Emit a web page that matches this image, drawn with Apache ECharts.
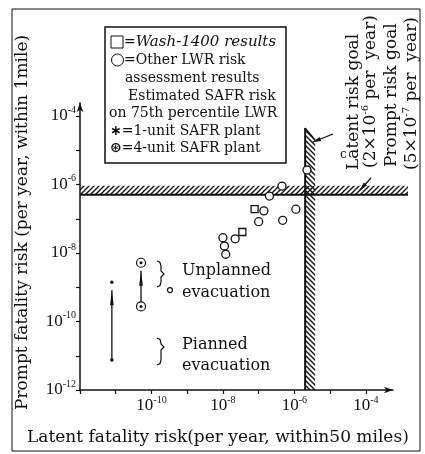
<!DOCTYPE html>
<html>
<head>
<meta charset="utf-8">
<script src="https://cdn.jsdelivr.net/npm/echarts@6/dist/echarts.min.js"></script>
<style>
html, body { margin: 0; padding: 0; background: #fff; }
#main { width: 425px; height: 454px; }
</style>
</head>
<body>
<div id="main"></div>
<script>
// ---------------- data (risk per year), [latent, prompt]
// WASH-1400 results
const washData = [[7.7e-8, 1.9e-7], [3.5e-8, 4.1e-8]];
// other LWR risk assessment results
const lwrData = [
    [2.25e-6, 2.65e-6], [4.5e-7, 9.0e-7], [2.0e-7, 4.6e-7],
    [1.4e-7, 1.7e-7], [1.1e-6, 1.9e-7], [1.0e-7, 8.2e-8],
    [4.7e-7, 9.0e-8], [2.2e-8, 2.6e-8], [1.0e-8, 2.8e-8],
    [1.1e-8, 1.6e-8], [1.2e-8, 9.2e-9]
];
// SAFR plants: [latent, prompt (unplanned evacuation), prompt (planned evacuation)]
const safr1Unit = [7.8e-12, 1.4e-9, 7.5e-12];
const safr4Unit = [5.1e-11, 5.2e-9, 2.75e-10];
// small point next to "evacuation"
const extraData = [[3.3e-10, 8.3e-10]];
// risk goals
const latentGoal = 2e-6;
const promptGoal = 5e-7;
// ticks (powers of ten)
const tickPowers = [-12, -11, -10, -9, -8, -7, -6, -5, -4];
const xLabelPowers = [-10, -8, -6, -4];
const yLabelPowers = [-12, -10, -8, -6, -4];

const lg = Math.log10;
const toLog = arr => arr.map(d => d.map(lg));

const INK = '#111';
const SERIF = 'DejaVu Serif';
const NUMF = 'Liberation Serif';

// hatch pattern for the goal bands
function makeHatch(dir) {
    const s = 5;
    const c = document.createElement('canvas');
    c.width = s; c.height = s;
    const g = c.getContext('2d');
    g.strokeStyle = INK;
    g.lineWidth = 1.4;
    g.beginPath();
    if (dir > 0) {
        g.moveTo(-1, s + 1); g.lineTo(s + 1, -1);
        g.moveTo(-1, 1); g.lineTo(1, -1);
        g.moveTo(s - 1, s + 1); g.lineTo(s + 1, s - 1);
    } else {
        g.moveTo(-1, -1); g.lineTo(s + 1, s + 1);
        g.moveTo(s - 1, -1); g.lineTo(s + 1, 1);
        g.moveTo(-1, s - 1); g.lineTo(1, s + 1);
    }
    g.stroke();
    return c;
}
const hatchA = makeHatch(1);
const hatchB = makeHatch(-1);

const tickLabel = v => '{b|10}{s|-' + Math.abs(v) + '}';
const tickRich = {
    b: { fontFamily: NUMF, fontSize: 17, color: INK },
    s: { fontFamily: NUMF, fontSize: 10, color: INK, padding: [0, 0, 12, 0] }
};

// arrow helper for the leader lines
function leader(x1, y1, x2, y2) {
    const dx = x2 - x1, dy = y2 - y1;
    const len = Math.sqrt(dx * dx + dy * dy);
    const ux = dx / len, uy = dy / len;
    const bx = x2 - ux * 8, by = y2 - uy * 8;
    return [
        { type: 'line', shape: { x1: x1, y1: y1, x2: x2, y2: y2 }, style: { stroke: INK, lineWidth: 1.2 } },
        { type: 'polygon', shape: { points: [[x2, y2], [bx - uy * 2.2, by + ux * 2.2], [bx + uy * 2.2, by - ux * 2.2]] }, style: { fill: INK } }
    ];
}

function brace(x, t, b, m) {
    return {
        type: 'polyline',
        shape: { points: [[x, t], [x + 3, t + 1.5], [x + 4, t + 5], [x + 4, m - 3], [x + 7, m], [x + 4, m + 3], [x + 4, b - 5], [x + 3, b - 1.5], [x, b]] },
        style: { stroke: INK, fill: null, lineWidth: 1.2 }
    };
}

function txt(x, y, text, size, extra) {
    return Object.assign({
        type: 'text', x: x, y: y,
        style: { text: text, fontFamily: SERIF, fontSize: size, fill: INK, verticalAlign: 'middle', align: 'left' }
    }, extra || {});
}

// legend box
const legendLines = [
    { y: 42, x: 124, text: '={i|Wash-1400 results}' },
    { y: 60, x: 124, text: '=Other LWR risk' },
    { y: 78, x: 125, text: 'assessment results' },
    { y: 96, x: 128, text: 'Estimated SAFR risk' },
    { y: 113, x: 109, text: 'on 75th percentile LWR' },
    { y: 131, x: 110, text: '{k|\u2217}=1-unit SAFR plant' },
    { y: 148, x: 110, text: '{k|\u229B}=4-unit SAFR plant' }
];
const legendGraphics = [
    { type: 'rect', shape: { x: 105, y: 27, width: 181, height: 136 }, style: { fill: '#fff', stroke: INK, lineWidth: 1.5 } },
    { type: 'rect', shape: { x: 111, y: 36, width: 12, height: 12 }, style: { fill: '#fff', stroke: INK, lineWidth: 1 } },
    { type: 'circle', shape: { cx: 117.5, cy: 60, r: 6 }, style: { fill: '#fff', stroke: INK, lineWidth: 1 } }
].concat(legendLines.map(l => ({
    type: 'text', x: l.x, y: l.y,
    style: {
        text: l.text, fontFamily: SERIF, fontSize: 14, fill: INK, verticalAlign: 'middle',
        rich: {
            i: { fontFamily: SERIF, fontStyle: 'italic', fontSize: 15, fill: INK },
            k: { fontFamily: 'DejaVu Sans', fontSize: 14, fontWeight: 'bold', fill: INK }
        }
    }
})));

const supRich = {
    s: { fontFamily: SERIF, fontSize: 10, fill: INK, padding: [0, 0, 11, 0] }
};
const rot = Math.PI / 2;

const chart = echarts.init(document.getElementById('main'));
const option = {
    animation: false,
    backgroundColor: '#fff',
    grid: { left: 80, top: 103, right: 32, bottom: 64 },
    xAxis: {
        type: 'value', min: -12, max: -3.24, interval: 1,
        splitLine: { show: false },
        axisLine: { lineStyle: { color: INK, width: 1.5 }, symbol: ['none', 'arrow'], symbolSize: [5, 9] },
        axisTick: { customValues: tickPowers, length: 4, lineStyle: { color: INK, width: 1.2 } },
        axisLabel: { customValues: xLabelPowers, formatter: tickLabel, rich: tickRich, margin: 5 }
    },
    yAxis: {
        type: 'value', min: -12, max: -3.62, interval: 1,
        splitLine: { show: false },
        axisLine: { lineStyle: { color: INK, width: 1.5 }, symbol: ['none', 'arrow'], symbolSize: [5, 9] },
        axisTick: { customValues: tickPowers, length: 4, lineStyle: { color: INK, width: 1.2 } },
        axisLabel: { customValues: yLabelPowers, formatter: tickLabel, rich: tickRich, margin: 4 }
    },
    series: [
        // prompt risk goal band
        {
            type: 'custom', clip: false, z: 1,
            data: [[-12, lg(promptGoal)]],
            renderItem: function (params, api) {
                const p = api.coord([api.value(0), api.value(1)]);
                const right = api.coord([-3.24, api.value(1)])[0] + 15;
                return {
                    type: 'group', children: [
                        { type: 'rect', shape: { x: p[0], y: p[1] - 9, width: right - p[0], height: 9 }, style: { fill: { image: hatchA, repeat: 'repeat' } } },
                        { type: 'line', shape: { x1: p[0], y1: p[1], x2: right, y2: p[1] }, style: { stroke: INK, lineWidth: 2 } }
                    ]
                };
            }
        },
        // latent risk goal band
        {
            type: 'custom', clip: false, z: 1,
            data: [[lg(latentGoal), -12]],
            renderItem: function (params, api) {
                const p = api.coord([api.value(0), api.value(1)]);
                const top = api.coord([api.value(0), -4.35])[1];
                return {
                    type: 'group', children: [
                        { type: 'polygon', shape: { points: [[p[0], top], [p[0] + 10, top + 12], [p[0] + 10, p[1]], [p[0], p[1]]] }, style: { fill: { image: hatchB, repeat: 'repeat' } } },
                        { type: 'line', shape: { x1: p[0], y1: top, x2: p[0] + 10, y2: top + 12 }, style: { stroke: INK, lineWidth: 1.2 } },
                        { type: 'line', shape: { x1: p[0], y1: p[1], x2: p[0], y2: top }, style: { stroke: INK, lineWidth: 2 } }
                    ]
                };
            }
        },
        // SAFR arrows (planned -> unplanned)
        {
            type: 'custom', clip: false, z: 2,
            data: [safr1Unit.map(lg), safr4Unit.map(lg)],
            renderItem: function (params, api) {
                const top = api.coord([api.value(0), api.value(1)]);
                const bot = api.coord([api.value(0), api.value(2)]);
                const tip = top[1] + 8;
                return {
                    type: 'group', children: [
                        { type: 'line', shape: { x1: bot[0], y1: bot[1], x2: top[0], y2: tip }, style: { stroke: INK, lineWidth: 1.3 } },
                        { type: 'polygon', shape: { points: [[top[0], tip], [top[0] - 1.8, tip + 15], [top[0] + 1.8, tip + 15]] }, style: { fill: INK } }
                    ]
                };
            }
        },
        {
            type: 'scatter', z: 3, data: toLog(lwrData), symbol: 'circle', symbolSize: 8,
            itemStyle: { color: '#fff', borderColor: INK, borderWidth: 1.3, opacity: 1 }
        },
        {
            type: 'scatter', z: 3, data: toLog(washData), symbol: 'rect', symbolSize: 7,
            itemStyle: { color: '#fff', borderColor: INK, borderWidth: 1.3, opacity: 1 }
        },
        {
            type: 'scatter', z: 3, data: toLog([[safr1Unit[0], safr1Unit[1]], [safr1Unit[0], safr1Unit[2]]]),
            symbol: 'circle', symbolSize: 3.5, itemStyle: { color: INK, opacity: 1 }
        },
        {
            type: 'scatter', z: 3, data: toLog([[safr4Unit[0], safr4Unit[1]], [safr4Unit[0], safr4Unit[2]]]),
            symbol: 'circle', symbolSize: 9, itemStyle: { color: '#fff', borderColor: INK, borderWidth: 1.2, opacity: 1 }
        },
        {
            type: 'scatter', z: 4, data: toLog([[safr4Unit[0], safr4Unit[1]], [safr4Unit[0], safr4Unit[2]]]),
            symbol: 'circle', symbolSize: 3, itemStyle: { color: INK, opacity: 1 }
        },
        {
            type: 'scatter', z: 3, data: toLog(extraData), symbol: 'circle', symbolSize: 5,
            itemStyle: { color: '#fff', borderColor: INK, borderWidth: 1.2, opacity: 1 }
        }
    ],
    graphic: [
        // frame
        { type: 'rect', shape: { x: 12, y: 9, width: 408, height: 442 }, style: { fill: null, stroke: INK, lineWidth: 1 }, z: 0 },
        // axis titles
        txt(23, 410, 'Prompt fatality risk (per year, within 1mile)', 17, { rotation: rot }),
        txt(27, 438, 'Latent fatality risk(per year, within50 miles)', 17),
        // evacuation notes
        txt(182, 271, 'Unplanned', 16),
        txt(182, 293, 'evacuation', 16),
        txt(182, 345, 'Pianned', 16),
        txt(182, 366, 'evacuation', 16),
        brace(157, 261, 287, 274),
        brace(157, 338, 365, 347),
        // goal labels
        txt(340, 155, 'c', 12),
        txt(354, 170, 'Latent risk goal', 17, { rotation: rot }),
        {
            type: 'text', x: 371, y: 168, rotation: rot,
            style: { text: '(2\u00D710{s|-6} per  year)', fontFamily: SERIF, fontSize: 17, fill: INK, verticalAlign: 'middle', rich: supRich }
        },
        txt(392, 167, 'Prompt risk goal', 17, { rotation: rot }),
        {
            type: 'text', x: 412, y: 170, rotation: rot,
            style: { text: '(5\u00D710{s|-7} per  year)', fontFamily: SERIF, fontSize: 17, fill: INK, verticalAlign: 'middle', rich: supRich }
        }
    ].concat(leader(333, 134, 313, 142), leader(371, 178, 360, 190), legendGraphics)
};
chart.setOption(option);
</script>
</body>
</html>
